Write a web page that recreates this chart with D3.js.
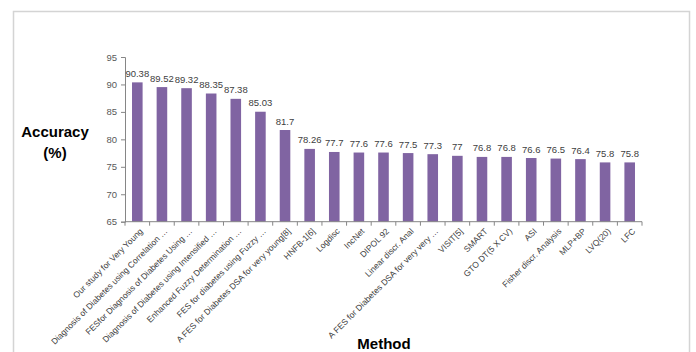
<!DOCTYPE html>
<html>
<head>
<meta charset="utf-8">
<script src="https://cdn.jsdelivr.net/npm/d3@7"></script>
<style>
  body { margin: 0; background: #fff; }
  svg { display: block; }
  text { font-family: "Liberation Sans", Arial, sans-serif; }
</style>
</head>
<body>
<div id="chart"></div>
<script>
var methods = [
  "Our study for Very Young",
  "Diagnosis of Diabetes using Correlation …",
  "FESfor Diagnosis of Diabetes Using …",
  "Diagnosis of Diabetes using Intensified …",
  "Enhanced Fuzzy Determination …",
  "FES for diabetes using Fuzzy …",
  "A FES for Diabetes DSA for very young[8]",
  "HNFB-1[6]",
  "Logdisc",
  "IncNet",
  "DIPOL 92",
  "Linear discr. Anal",
  "A FES for Diabetes DSA for very very …",
  "VISIT[5]",
  "SMART",
  "GTO DT(5 X CV)",
  "ASI",
  "Fisher discr. Analysis",
  "MLP+BP",
  "LVQ(20)",
  "LFC"
];
var accuracy = [90.38, 89.52, 89.32, 88.35, 87.38, 85.03, 81.7, 78.26, 77.7, 77.6,
  77.6, 77.5, 77.3, 77, 76.8, 76.8, 76.6, 76.5, 76.4, 75.8, 75.8];
var yTicks = [65, 70, 75, 80, 85, 90, 95];

var width = 696, height = 352;

var svg = d3.select("#chart").append("svg")
    .attr("width", width)
    .attr("height", height);

// chart frame
svg.append("rect")
    .attr("x", 13.5)
    .attr("y", 11.5)
    .attr("width", 676)
    .attr("height", 360)
    .attr("fill", "none")
    .attr("stroke", "#d4d4d4")
    .attr("stroke-width", 1.5);

var x = d3.scaleBand()
    .domain(methods)
    .range([125, 642])
    .paddingInner(0.57)
    .paddingOuter(0.285);

var y = d3.scaleLinear()
    .domain([65, 95])
    .range([221.7, 57]);

// y axis
var yAxis = svg.append("g")
    .attr("transform", "translate(125,0)")
    .call(d3.axisLeft(y).tickValues(yTicks).tickSize(4).tickPadding(4));
yAxis.select(".domain").attr("stroke", "#868686");
yAxis.selectAll(".tick line").attr("stroke", "#868686");
yAxis.selectAll(".tick text")
    .attr("fill", "#595959")
    .style("font-size", "9.5px");

// bars
svg.selectAll(".bar")
    .data(accuracy)
    .enter().append("rect")
    .attr("class", "bar")
    .attr("x", function(d, i) { return x(methods[i]); })
    .attr("y", function(d) { return y(d); })
    .attr("width", x.bandwidth())
    .attr("height", function(d) { return y(65) - y(d); })
    .attr("fill", "#8064A2");

// value labels
svg.selectAll(".val")
    .data(accuracy)
    .enter().append("text")
    .attr("class", "val")
    .attr("x", function(d, i) { return x(methods[i]) + x.bandwidth() / 2; })
    .attr("y", function(d) { return y(d) - 5.5; })
    .attr("text-anchor", "middle")
    .attr("fill", "#404040")
    .style("font-size", "9.5px")
    .text(function(d) { return d; });

// x axis line and ticks at category boundaries
var step = x.step();
var x0 = 125;
svg.append("line")
    .attr("x1", x0).attr("x2", 642)
    .attr("y1", y(65)).attr("y2", y(65))
    .attr("stroke", "#868686");
svg.selectAll(".xtick")
    .data(d3.range(methods.length + 1))
    .enter().append("line")
    .attr("x1", function(i) { return x0 + i * step; })
    .attr("x2", function(i) { return x0 + i * step; })
    .attr("y1", y(65))
    .attr("y2", y(65) + 4)
    .attr("stroke", "#868686");

// category labels, rotated
svg.selectAll(".xlab")
    .data(methods)
    .enter().append("text")
    .attr("class", "xlab")
    .attr("transform", function(d) {
      return "translate(" + (x(d) + x.bandwidth() / 2 + 4) + "," + (y(65) + 8) + ") rotate(-45)";
    })
    .attr("text-anchor", "end")
    .attr("dy", "0.35em")
    .attr("fill", "#404040")
    .style("font-size", "8.5px")
    .text(function(d) { return d; });

// axis titles
svg.append("text")
    .attr("x", 55).attr("y", 137)
    .attr("text-anchor", "middle")
    .style("font-size", "15px")
    .style("font-weight", "bold")
    .text("Accuracy");
svg.append("text")
    .attr("x", 55).attr("y", 158)
    .attr("text-anchor", "middle")
    .style("font-size", "15px")
    .style("font-weight", "bold")
    .text("(%)");
svg.append("text")
    .attr("x", 384).attr("y", 349)
    .attr("text-anchor", "middle")
    .style("font-size", "15px")
    .style("font-weight", "bold")
    .text("Method");
</script>
</body>
</html>
